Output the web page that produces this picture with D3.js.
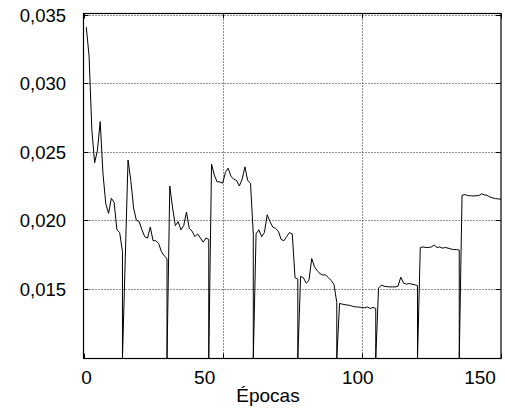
<!DOCTYPE html>
<html>
<head>
<meta charset="utf-8">
<script src="https://cdn.jsdelivr.net/npm/d3@7"></script>
<style>
  body { margin: 0; background: #fff; }
  svg { display: block; font-family: "Liberation Sans", Arial, sans-serif; }
</style>
</head>
<body>
<svg id="chart" width="505" height="410"></svg>
<script>
// loss per epoch, epochs 1..150 (one row per training run)
const loss = [
  0.0341, 0.0320, 0.0266, 0.0242, 0.0251, 0.0272, 0.0234, 0.0212, 0.0205, 0.0216, 0.0213, 0.0193, 0.0191, 0.0177,
  0.0172, 0.0244, 0.0229, 0.0209, 0.0200, 0.0199, 0.0193, 0.0188, 0.0187, 0.0195, 0.0185, 0.0185, 0.0183, 0.0177, 0.0174, 0.0172,
  0.0225, 0.0209, 0.0196, 0.0199, 0.0193, 0.0196, 0.0206, 0.0194, 0.0192, 0.0188, 0.0190, 0.0187, 0.0184, 0.0187, 0.0186,
  0.0241, 0.0233, 0.0228, 0.0228, 0.0227, 0.0235, 0.0238, 0.0232, 0.0230, 0.0229, 0.0225, 0.0230, 0.0239, 0.0229, 0.0227, 0.0190,
  0.0190, 0.0193, 0.0188, 0.0191, 0.0204, 0.0199, 0.0195, 0.0194, 0.0192, 0.0186, 0.0185, 0.0188, 0.0191, 0.0190, 0.0158, 0.0157,
  0.0159, 0.0158, 0.0154, 0.0156, 0.0172, 0.0166, 0.0163, 0.0161, 0.0160, 0.0160, 0.0158, 0.0156, 0.0153, 0.0140,
  0.01392, 0.01387, 0.01383, 0.01380, 0.01376, 0.01369, 0.01367, 0.01365, 0.01363, 0.01360, 0.01367, 0.01355, 0.01363, 0.01355,
  0.01504, 0.01526, 0.01518, 0.01515, 0.01513, 0.01513, 0.01513, 0.01518, 0.01584, 0.01540, 0.01533, 0.01538, 0.01533, 0.01529, 0.01522,
  0.01801, 0.01805, 0.01801, 0.01801, 0.01805, 0.01818, 0.01801, 0.01805, 0.01796, 0.01801, 0.01796, 0.01790, 0.01786, 0.01786, 0.01781,
  0.02182, 0.02188, 0.02180, 0.02179, 0.02177, 0.02179, 0.02180, 0.02193, 0.02185, 0.02182, 0.02170, 0.02163, 0.02158, 0.02156, 0.02153
];
// epochs where the curve falls to the bottom of the axes
const resetEpochs = [14, 30, 45, 61, 77, 91, 105, 120, 135];

const xTicks = [0, 50, 100, 150];
const yTicks = [0.015, 0.020, 0.025, 0.030, 0.035];
const xDomain = [0, 150];
const yDomain = [0.0099, 0.0351];

// label nudges (px) so tick labels sit where the original put them
const xLabelNudge = [3, -18, -4, -21];

const svg = d3.select("#chart");
const plotLeft = 83.5, plotRight = 501, plotTop = 13.5, plotBottom = 358.5;

const x = d3.scaleLinear().domain(xDomain).range([plotLeft, plotRight]);
const y = d3.scaleLinear().domain(yDomain).range([plotBottom, plotTop]);

// dotted grid
const grid = svg.append("g")
  .attr("stroke", "#222")
  .attr("stroke-width", 1)
  .attr("stroke-dasharray", "1,2");
grid.selectAll(".gx")
  .data(xTicks.filter((t) => t > xDomain[0] && t < xDomain[1]))
  .join("line")
  .attr("x1", (d) => Math.round(x(d)) + 0.5)
  .attr("x2", (d) => Math.round(x(d)) + 0.5)
  .attr("y1", plotTop)
  .attr("y2", plotBottom);
grid.selectAll(".gy")
  .data(yTicks)
  .join("line")
  .attr("y1", (d) => Math.round(y(d)) + 0.5)
  .attr("y2", (d) => Math.round(y(d)) + 0.5)
  .attr("x1", plotLeft)
  .attr("x2", plotRight);

// curve
const pts = [];
loss.forEach((v, i) => {
  const ep = i + 1;
  pts.push([ep, v]);
  if (resetEpochs.includes(ep)) pts.push([ep, yDomain[0]]);
});

svg.append("clipPath").attr("id", "clip")
  .append("rect")
  .attr("x", plotLeft).attr("y", plotTop)
  .attr("width", plotRight - plotLeft).attr("height", plotBottom - plotTop);

svg.append("path")
  .datum(pts)
  .attr("clip-path", "url(#clip)")
  .attr("fill", "none")
  .attr("stroke", "#000")
  .attr("stroke-width", 1)
  .attr("d", d3.line().x((d) => x(d[0])).y((d) => y(d[1])));

// inward ticks on all four sides
const tickLen = 5;
const ticks = svg.append("g").attr("stroke", "#000").attr("stroke-width", 1);
yTicks.forEach((t) => {
  const yy = Math.round(y(t)) + 0.5;
  ticks.append("line").attr("x1", plotLeft).attr("x2", plotLeft + tickLen).attr("y1", yy).attr("y2", yy);
  ticks.append("line").attr("x1", plotRight).attr("x2", plotRight - tickLen).attr("y1", yy).attr("y2", yy);
});
xTicks.forEach((t) => {
  const xx = Math.round(x(t)) + 0.5;
  ticks.append("line").attr("x1", xx).attr("x2", xx).attr("y1", plotBottom).attr("y2", plotBottom - tickLen);
  ticks.append("line").attr("x1", xx).attr("x2", xx).attr("y1", plotTop).attr("y2", plotTop + tickLen);
});

// frame
svg.append("rect")
  .attr("x", plotLeft).attr("y", plotTop)
  .attr("width", plotRight - plotLeft).attr("height", plotBottom - plotTop)
  .attr("fill", "none")
  .attr("stroke", "#000")
  .attr("stroke-width", 1.2);

// y tick labels
const fmtY = (v) => d3.format(".3f")(v).replace(".", ",");
svg.append("g")
  .selectAll("text")
  .data(yTicks)
  .join("text")
  .attr("x", 66)
  .attr("y", (d) => y(d) + 7)
  .attr("text-anchor", "end")
  .attr("font-size", 18.5)
  .attr("fill", "#000")
  .text(fmtY);

// x tick labels
svg.append("g")
  .selectAll("text")
  .data(xTicks)
  .join("text")
  .attr("x", (d, i) => x(d) + xLabelNudge[i])
  .attr("y", 384)
  .attr("text-anchor", "middle")
  .attr("font-size", 19)
  .attr("fill", "#000")
  .text((d) => d);

// axis title
svg.append("text")
  .attr("x", 268)
  .attr("y", 402)
  .attr("text-anchor", "middle")
  .attr("font-size", 19)
  .attr("fill", "#000")
  .text("Épocas");
</script>
</body>
</html>
